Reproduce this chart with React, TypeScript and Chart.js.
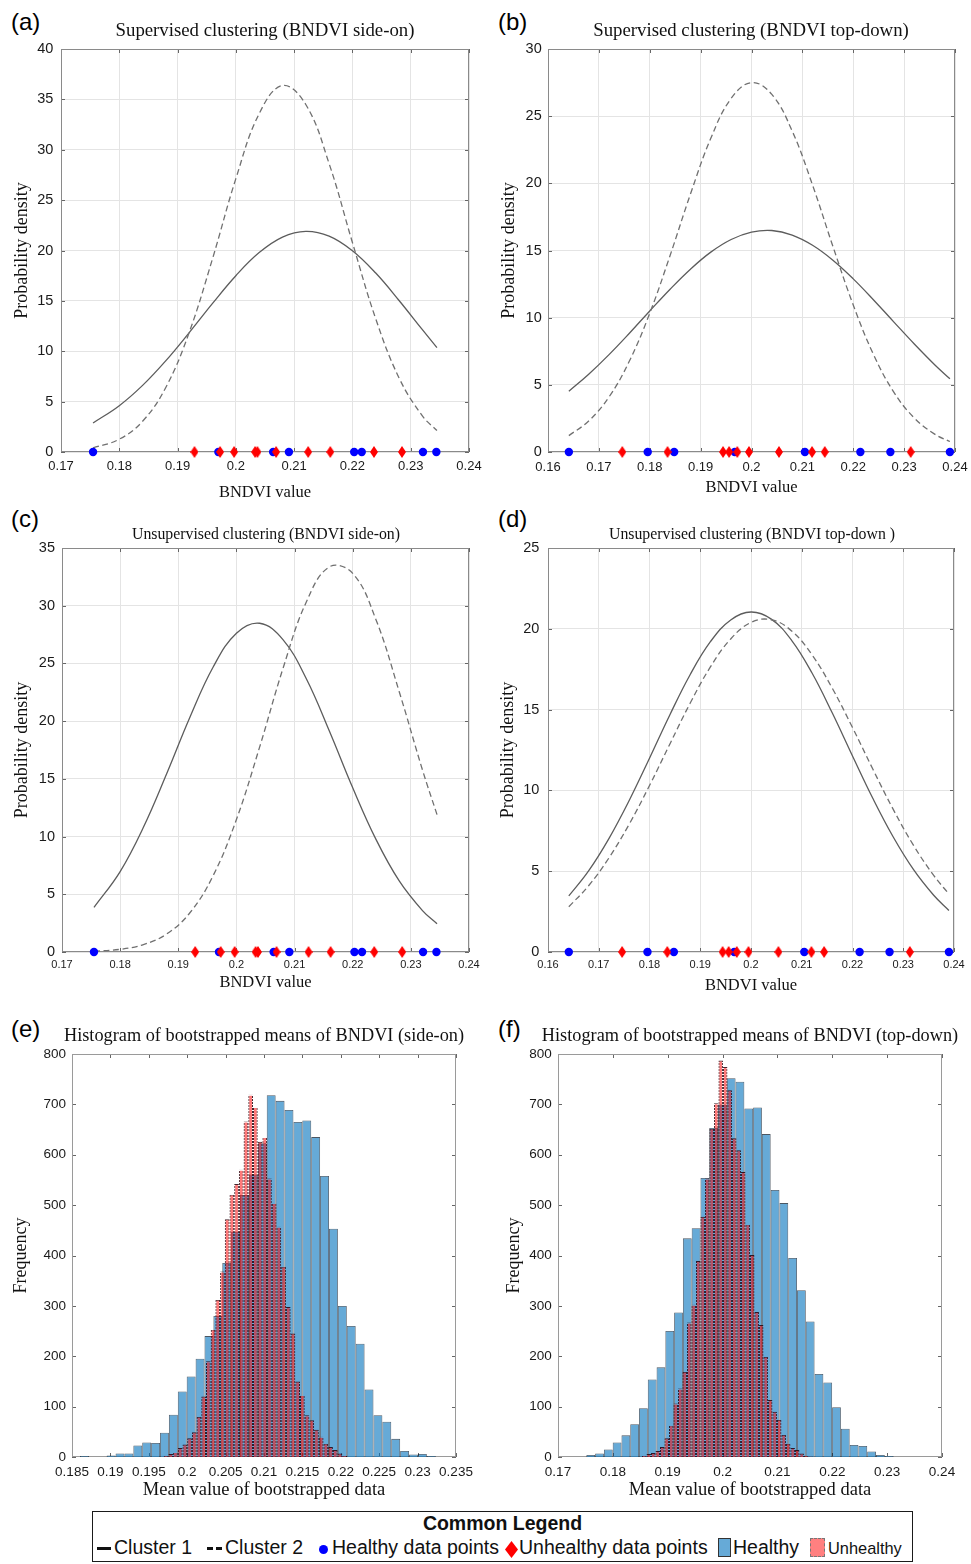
import React, { useEffect, useRef } from "react";
import { Chart, registerables } from "chart.js";

Chart.register(...registerables);

const SANS = "'Liberation Sans', Arial, sans-serif";
const SERIF = "'Liberation Serif', 'Times New Roman', serif";
const TICK_COLOR = "#1a1a1a";
const GRID_COLOR = "#e4e4e4";

// ---------------- data points (BNDVI values, plotted at density 0) ----------------
const sideOnHealthy = [0.1755, 0.197, 0.2064, 0.2091, 0.2203, 0.2216, 0.2321, 0.2344];
const sideOnUnhealthy = [0.1929, 0.1973, 0.1997, 0.2033, 0.2037, 0.2069, 0.2124, 0.2162, 0.2237, 0.2285];
const topDownHealthy = [0.1641, 0.1796, 0.1848, 0.1967, 0.2105, 0.2214, 0.2273, 0.239];
const topDownUnhealthy = [0.1746, 0.1835, 0.1944, 0.1956, 0.1972, 0.1995, 0.2054, 0.2119, 0.2144, 0.2313];

// ---------------- fitted density curves ----------------
const sideOnCurveX = [0.1755, 0.18, 0.184, 0.188, 0.192, 0.196, 0.2, 0.204, 0.208, 0.212, 0.216, 0.22, 0.224, 0.228, 0.232, 0.2345];
const supSideCluster1 = [2.88, 4.6, 6.61, 9.07, 11.85, 14.75, 17.5, 19.79, 21.33, 21.9, 21.43, 19.98, 17.76, 15.04, 12.14, 10.36];
const supSideCluster2 = [0.4, 1.27, 3.05, 6.43, 11.88, 19.19, 27.13, 33.58, 36.38, 34.49, 28.62, 20.79, 13.22, 7.35, 3.58, 2.14];
const unsupSideCluster1 = [3.86, 6.97, 10.8, 15.44, 20.34, 24.69, 27.62, 28.48, 27.06, 23.7, 19.13, 14.23, 9.76, 6.16, 3.59, 2.45];
const unsupSideCluster2 = [0.07, 0.23, 0.64, 1.56, 3.4, 6.62, 11.48, 17.77, 24.55, 30.3, 33.37, 32.8, 28.79, 22.55, 15.77, 11.9];

const topDownCurveX = [0.1641, 0.168, 0.172, 0.176, 0.18, 0.184, 0.188, 0.192, 0.196, 0.2, 0.204, 0.208, 0.212, 0.216, 0.22, 0.224, 0.228, 0.232, 0.236, 0.239];
const supTopCluster1 = [4.52, 5.79, 7.25, 8.84, 10.5, 12.12, 13.61, 14.88, 15.82, 16.37, 16.49, 16.15, 15.39, 14.28, 12.89, 11.32, 9.67, 8.04, 6.5, 5.45];
const supTopCluster2 = [1.22, 2.31, 4.1, 6.77, 10.33, 14.63, 19.2, 23.35, 26.32, 27.5, 26.62, 23.89, 19.87, 15.31, 10.94, 7.24, 4.44, 2.53, 1.33, 0.78];
const unsupTopCluster1 = [3.47, 5.02, 7.02, 9.38, 11.99, 14.67, 17.16, 19.2, 20.55, 21.04, 20.6, 19.29, 17.28, 14.8, 12.13, 9.51, 7.13, 5.11, 3.51, 2.57];
const unsupTopCluster2 = [2.8, 4.1, 5.82, 7.91, 10.3, 12.86, 15.39, 17.64, 19.37, 20.39, 20.56, 19.87, 18.4, 16.33, 13.89, 11.32, 8.84, 6.61, 4.74, 3.59];

// ---------------- bootstrapped-means histograms ----------------
const sideOnHealthyBinStart = 0.18604;
const sideOnHealthyBinWidth = 0.001158;
const sideOnHealthyCounts = [2, 0, 0, 3, 7, 7, 23, 29, 28, 48, 84, 130, 160, 195, 240, 280, 385, 447, 520, 561, 623, 718, 707, 689, 665, 668, 635, 558, 453, 300, 260, 225, 134, 83, 70, 36, 12, 5, 6, 2];
const sideOnUnhealthyBinStart = 0.19694;
const sideOnUnhealthyBinWidth = 0.000612;
const sideOnUnhealthyCounts = [3, 6, 10, 18, 25, 37, 49, 80, 120, 190, 253, 312, 368, 472, 521, 542, 570, 666, 719, 695, 626, 635, 553, 504, 457, 378, 298, 245, 150, 123, 83, 73, 54, 40, 27, 20, 14, 7, 3];

const topDownHealthyBinStart = 0.17517;
const topDownHealthyBinWidth = 0.0016;
const topDownHealthyCounts = [4, 7, 15, 29, 43, 65, 97, 154, 178, 250, 287, 434, 454, 554, 653, 700, 752, 745, 692, 694, 641, 530, 504, 395, 331, 269, 165, 148, 99, 56, 24, 22, 11, 4, 2];
const topDownUnhealthyBinStart = 0.18531;
const topDownUnhealthyBinWidth = 0.00082;
const topDownUnhealthyCounts = [3, 6, 8, 12, 20, 37, 63, 106, 136, 169, 267, 302, 389, 477, 553, 652, 702, 787, 774, 728, 633, 609, 566, 462, 401, 288, 262, 199, 113, 90, 74, 44, 27, 18, 14, 7, 3, 1];

// ---------------- helpers ----------------
type Rect = { x: number; y: number; w: number; h: number };
type Plot = { l: number; t: number; r: number; b: number };

const fmt = (v: any) => String(parseFloat(Number(v).toFixed(4)));

const matlabBox = {
  id: "matlabBox",
  beforeDatasetsDraw(chart: any, _args: any, opts: any) {
    const { ctx, chartArea: a } = chart;
    const xs = chart.scales.x;
    const ys = chart.scales.y;
    const L = 4;
    ctx.save();
    ctx.lineWidth = 1;
    ctx.strokeStyle = opts.tickColor || "#555";
    ctx.beginPath();
    for (const t of xs.ticks) {
      const px = Math.round(xs.getPixelForValue(t.value)) + 0.5;
      ctx.moveTo(px, a.bottom);
      ctx.lineTo(px, a.bottom - L);
      ctx.moveTo(px, a.top);
      ctx.lineTo(px, a.top + L);
    }
    for (const t of ys.ticks) {
      const py = Math.round(ys.getPixelForValue(t.value)) + 0.5;
      ctx.moveTo(a.left, py);
      ctx.lineTo(a.left + L, py);
      ctx.moveTo(a.right, py);
      ctx.lineTo(a.right - L, py);
    }
    ctx.stroke();
    ctx.strokeStyle = opts.boxColor || "#888";
    ctx.strokeRect(Math.round(a.left) + 0.5, Math.round(a.top) + 0.5, Math.round(a.right - a.left) - 1, Math.round(a.bottom - a.top) - 1);
    ctx.restore();
  },
};

function makeDiamond(w: number, h: number, color: string) {
  const c = document.createElement("canvas");
  c.width = w;
  c.height = h;
  const g = c.getContext("2d")!;
  g.fillStyle = color;
  g.beginPath();
  g.moveTo(w / 2, 0);
  g.lineTo(w, h / 2);
  g.lineTo(w / 2, h);
  g.lineTo(0, h / 2);
  g.closePath();
  g.fill();
  return c;
}

function makeDashPattern() {
  const c = document.createElement("canvas");
  c.width = 1;
  c.height = 3;
  const g = c.getContext("2d")!;
  g.fillStyle = "rgba(35,0,10,0.85)";
  g.fillRect(0, 0, 1, 2);
  return g.createPattern(c, "repeat");
}

type AxisSpec = {
  min: number;
  max: number;
  step: number;
  tickSize: number;
  tickPad: number;
  title: string;
  titleSize: number;
  titlePad: number;
  grid: boolean;
};

function xScaleOpts(a: AxisSpec, height: number) {
  return {
    type: "linear",
    min: a.min,
    max: a.max,
    offset: false,
    afterFit: (s: any) => {
      s.height = height;
      s.paddingLeft = 0;
      s.paddingRight = 0;
    },
    ticks: {
      stepSize: a.step,
      autoSkip: false,
      maxRotation: 0,
      minRotation: 0,
      padding: a.tickPad,
      color: TICK_COLOR,
      font: { family: SANS, size: a.tickSize },
      callback: (v: any) => fmt(v),
    },
    grid: { display: a.grid, color: GRID_COLOR, drawTicks: false, offset: false },
    border: { display: false },
    title: {
      display: true,
      text: a.title,
      color: "#111",
      font: { family: SERIF, size: a.titleSize },
      padding: { top: 0, bottom: a.titlePad },
    },
  };
}

function yScaleOpts(a: AxisSpec, width: number) {
  return {
    type: "linear",
    min: a.min,
    max: a.max,
    afterFit: (s: any) => {
      s.width = width;
      s.paddingTop = 0;
      s.paddingBottom = 0;
    },
    ticks: {
      stepSize: a.step,
      autoSkip: false,
      padding: a.tickPad,
      color: TICK_COLOR,
      font: { family: SANS, size: a.tickSize },
      callback: (v: any) => fmt(v),
    },
    grid: { display: a.grid, color: GRID_COLOR, drawTicks: false },
    border: { display: false },
    title: {
      display: true,
      text: a.title,
      color: "#111",
      font: { family: SERIF, size: a.titleSize },
      padding: { top: a.titlePad, bottom: 0 },
    },
  };
}

type DensitySpec = {
  canvas: Rect;
  plot: Plot;
  x: AxisSpec;
  y: AxisSpec;
  curveX: number[];
  cluster1: number[];
  cluster2: number[];
  healthy: number[];
  unhealthy: number[];
};

function densityConfig(s: DensitySpec): any {
  const { canvas: c, plot: p } = s;
  const diamond = makeDiamond(8, 12, "#ff0000");
  return {
    type: "line",
    data: {
      datasets: [
        {
          label: "Unhealthy data points",
          data: s.unhealthy.map((v) => ({ x: v, y: 0 })),
          showLine: false,
          pointStyle: diamond,
          pointRadius: 6,
          pointHoverRadius: 6,
          backgroundColor: "#ff0000",
          borderColor: "#ff0000",
          order: 0,
          clip: false,
        },
        {
          label: "Healthy data points",
          data: s.healthy.map((v) => ({ x: v, y: 0 })),
          showLine: false,
          pointStyle: "circle",
          pointRadius: 4.2,
          pointHoverRadius: 4.2,
          pointBorderWidth: 0,
          backgroundColor: "#0000ff",
          borderColor: "#0000ff",
          order: 1,
          clip: false,
        },
        {
          label: "Cluster 2",
          data: s.curveX.map((x, i) => ({ x, y: s.cluster2[i] })),
          borderColor: "#707070",
          borderWidth: 1.3,
          borderDash: [6, 3.5],
          pointRadius: 0,
          tension: 0.4,
          fill: false,
          order: 2,
        },
        {
          label: "Cluster 1",
          data: s.curveX.map((x, i) => ({ x, y: s.cluster1[i] })),
          borderColor: "#5c5c5c",
          borderWidth: 1.3,
          pointRadius: 0,
          tension: 0.4,
          fill: false,
          order: 3,
        },
      ],
    },
    options: {
      responsive: false,
      animation: false,
      events: [],
      layout: { padding: { left: 0, top: p.t - c.y, right: c.x + c.w - p.r, bottom: 0 } },
      scales: {
        x: xScaleOpts(s.x, c.y + c.h - p.b),
        y: yScaleOpts(s.y, p.l - c.x),
      },
      plugins: {
        legend: { display: false },
        tooltip: { enabled: false },
        title: { display: false },
        matlabBox: { boxColor: "#8a8a8a", tickColor: "#666" },
      },
    },
    plugins: [matlabBox],
  };
}

type HistSpec = {
  canvas: Rect;
  plot: Plot;
  x: AxisSpec;
  y: AxisSpec;
  healthyStart: number;
  healthyWidth: number;
  healthyCounts: number[];
  unhealthyStart: number;
  unhealthyWidth: number;
  unhealthyCounts: number[];
};

function histConfig(s: HistSpec): any {
  const { canvas: c, plot: p } = s;
  const dash = makeDashPattern();
  const red = s.unhealthyCounts.map((y, i) => ({ x: s.unhealthyStart + (i + 0.5) * s.unhealthyWidth, y }));
  const blue = s.healthyCounts.map((y, i) => ({ x: s.healthyStart + (i + 0.5) * s.healthyWidth, y }));
  return {
    type: "bar",
    data: {
      datasets: [
        {
          label: "Unhealthy",
          data: red,
          xAxisID: "x2",
          yAxisID: "y",
          backgroundColor: "rgba(255,0,0,0.52)",
          borderColor: dash,
          borderWidth: 1,
          borderSkipped: "start",
          barPercentage: 1,
          categoryPercentage: 1,
          grouped: false,
          inflateAmount: 0,
          order: 0,
        },
        {
          label: "Healthy",
          data: blue,
          xAxisID: "x",
          yAxisID: "y",
          backgroundColor: "rgba(0,114,189,0.6)",
          borderColor: "rgba(15,30,45,0.75)",
          borderWidth: 0.8,
          borderSkipped: "start",
          barPercentage: 1,
          categoryPercentage: 1,
          grouped: false,
          inflateAmount: 0,
          order: 1,
        },
      ],
    },
    options: {
      responsive: false,
      animation: false,
      events: [],
      layout: { padding: { left: 0, top: p.t - c.y, right: c.x + c.w - p.r, bottom: 0 } },
      scales: {
        x: xScaleOpts(s.x, c.y + c.h - p.b),
        x2: {
          type: "linear",
          display: false,
          min: s.x.min,
          max: s.x.max,
          offset: false,
          ticks: { stepSize: s.x.step },
          grid: { display: false, offset: false },
        },
        y: yScaleOpts(s.y, p.l - c.x),
      },
      plugins: {
        legend: { display: false },
        tooltip: { enabled: false },
        title: { display: false },
        matlabBox: { boxColor: "#9a9a9a", tickColor: "#666" },
      },
    },
    plugins: [matlabBox],
  };
}

function ChartCanvas({ rect, build }: { rect: Rect; build: () => any }) {
  const ref = useRef<HTMLCanvasElement>(null);
  useEffect(() => {
    if (!ref.current) return;
    const chart = new Chart(ref.current, build());
    return () => chart.destroy();
  }, []);
  return (
    <canvas
      ref={ref}
      width={rect.w}
      height={rect.h}
      style={{ position: "absolute", left: rect.x, top: rect.y, width: rect.w, height: rect.h }}
    />
  );
}

// ---------------- panel specs ----------------
const densityAxisX = (min: number, max: number, tickSize: number, tickPad: number, titlePad: number): AxisSpec => ({
  min, max, step: 0.01, tickSize, tickPad, title: "BNDVI value", titleSize: 16.5, titlePad, grid: true,
});
const densityAxisY = (max: number, tickPad: number, titlePad: number): AxisSpec => ({
  min: 0, max, step: 5, tickSize: 14.5, tickPad, title: "Probability density", titleSize: 18, titlePad, grid: true,
});

const panelA: DensitySpec = {
  canvas: { x: 0, y: 36, w: 485, h: 468 },
  plot: { l: 61, t: 49, r: 469, b: 452 },
  x: densityAxisX(0.17, 0.24, 13, 6.2, 1.1),
  y: densityAxisY(40, 7.7, 11.2),
  curveX: sideOnCurveX,
  cluster1: supSideCluster1,
  cluster2: supSideCluster2,
  healthy: sideOnHealthy,
  unhealthy: sideOnUnhealthy,
};
const panelB: DensitySpec = {
  canvas: { x: 490, y: 36, w: 481, h: 464 },
  plot: { l: 548, t: 49, r: 955, b: 452 },
  x: densityAxisX(0.16, 0.24, 13, 7.2, 2.1),
  y: densityAxisY(30, 6.3, 8.7),
  curveX: topDownCurveX,
  cluster1: supTopCluster1,
  cluster2: supTopCluster2,
  healthy: topDownHealthy,
  unhealthy: topDownUnhealthy,
};
const panelC: DensitySpec = {
  canvas: { x: 0, y: 535, w: 485, h: 465 },
  plot: { l: 62, t: 548, r: 469, b: 952 },
  x: densityAxisX(0.17, 0.24, 11, 6.4, 7.1),
  y: densityAxisY(35, 7, 11.7),
  curveX: sideOnCurveX,
  cluster1: unsupSideCluster1,
  cluster2: unsupSideCluster2,
  healthy: sideOnHealthy,
  unhealthy: sideOnUnhealthy,
};
const panelD: DensitySpec = {
  canvas: { x: 490, y: 535, w: 481, h: 465 },
  plot: { l: 548, t: 548, r: 954, b: 952 },
  x: densityAxisX(0.16, 0.24, 11, 6.4, 4.1),
  y: densityAxisY(25, 8.7, 7.7),
  curveX: topDownCurveX,
  cluster1: unsupTopCluster1,
  cluster2: unsupTopCluster2,
  healthy: topDownHealthy,
  unhealthy: topDownUnhealthy,
};

const histAxisY = (titlePad: number, tickPad: number): AxisSpec => ({
  min: 0, max: 800, step: 100, tickSize: 13.5, tickPad, title: "Frequency", titleSize: 18, titlePad, grid: false,
});
const histAxisX = (min: number, max: number, step: number): AxisSpec => ({
  min, max, step, tickSize: 13.5, tickPad: 6.9, title: "Mean value of bootstrapped data", titleSize: 18.5, titlePad: 3.9, grid: false,
});

const panelE: HistSpec = {
  canvas: { x: 0, y: 1042, w: 485, h: 463 },
  plot: { l: 72, t: 1054, r: 456, b: 1457 },
  x: histAxisX(0.185, 0.235, 0.005),
  y: histAxisY(10.2, 6),
  healthyStart: sideOnHealthyBinStart,
  healthyWidth: sideOnHealthyBinWidth,
  healthyCounts: sideOnHealthyCounts,
  unhealthyStart: sideOnUnhealthyBinStart,
  unhealthyWidth: sideOnUnhealthyBinWidth,
  unhealthyCounts: sideOnUnhealthyCounts,
};
const panelF: HistSpec = {
  canvas: { x: 490, y: 1042, w: 481, h: 463 },
  plot: { l: 558, t: 1054, r: 942, b: 1457 },
  x: histAxisX(0.17, 0.24, 0.01),
  y: histAxisY(13.7, 6.3),
  healthyStart: topDownHealthyBinStart,
  healthyWidth: topDownHealthyBinWidth,
  healthyCounts: topDownHealthyCounts,
  unhealthyStart: topDownUnhealthyBinStart,
  unhealthyWidth: topDownUnhealthyBinWidth,
  unhealthyCounts: topDownUnhealthyCounts,
};

const panelLetters = [
  { t: "(a)", x: 11, y: 10 },
  { t: "(b)", x: 498, y: 10 },
  { t: "(c)", x: 11, y: 507 },
  { t: "(d)", x: 498, y: 507 },
  { t: "(e)", x: 11, y: 1017 },
  { t: "(f)", x: 498, y: 1017 },
];

const panelTitles = [
  { t: "Supervised clustering (BNDVI side-on)", cx: 265, y: 21, s: 18.8 },
  { t: "Supervised clustering (BNDVI top-down)", cx: 751, y: 20.5, s: 18.8 },
  { t: "Unsupervised clustering (BNDVI side-on)", cx: 266, y: 526.3, s: 15.8 },
  { t: "Unsupervised clustering (BNDVI top-down )", cx: 752, y: 526.3, s: 15.8 },
  { t: "Histogram of bootstrapped means of BNDVI (side-on)", cx: 264, y: 1026.2, s: 18.3 },
  { t: "Histogram of bootstrapped means of BNDVI (top-down)", cx: 750, y: 1026.2, s: 18.3 },
];

const abs = (o: any): React.CSSProperties => ({ position: "absolute", ...o });

function Legend() {
  const txt = (t: string, x: number, y: number, s: number) => (
    <div style={abs({ left: x, top: y, fontFamily: SANS, fontSize: s, lineHeight: `${s}px`, whiteSpace: "nowrap", color: "#111" })}>{t}</div>
  );
  return (
    <>
      <div style={abs({ left: 92, top: 1511, width: 821, height: 51, border: "1.5px solid #1a1a1a", boxSizing: "border-box" })} />
      <div style={abs({ left: 92, width: 821, top: 1513.5, textAlign: "center", fontFamily: SANS, fontWeight: "bold", fontSize: 19.5, lineHeight: "19.5px", color: "#111" })}>
        Common Legend
      </div>
      <div style={abs({ left: 97, top: 1546.5, width: 14, height: 3, background: "#111" })} />
      {txt("Cluster 1", 114, 1538, 19.5)}
      <div style={abs({ left: 207, top: 1546.5, width: 6, height: 3, background: "#111" })} />
      <div style={abs({ left: 216, top: 1546.5, width: 6, height: 3, background: "#111" })} />
      {txt("Cluster 2", 225, 1538, 19.5)}
      <div style={abs({ left: 318.5, top: 1544.5, width: 9, height: 9, borderRadius: "50%", background: "#0000ff" })} />
      {txt("Healthy data points", 332, 1538, 19.5)}
      <svg style={abs({ left: 505, top: 1541 })} width={13} height={17}>
        <polygon points="6.5,0 13,8.5 6.5,17 0,8.5" fill="#ff0000" />
      </svg>
      {txt("Unhealthy data points", 519, 1538, 19.5)}
      <div style={abs({ left: 718, top: 1538, width: 13, height: 19, background: "rgb(102,170,215)", border: "1px solid #333", boxSizing: "border-box" })} />
      {txt("Healthy", 733, 1538, 19.5)}
      <div style={abs({ left: 810, top: 1538, width: 15, height: 19, background: "rgb(255,128,128)", border: "1px dashed #777", boxSizing: "border-box" })} />
      {txt("Unhealthy", 828, 1540.3, 16.4)}
    </>
  );
}

export default function App() {
  return (
    <div style={{ position: "absolute", left: 0, top: 0, width: 971, height: 1564, background: "#ffffff", overflow: "hidden" }}>
      <ChartCanvas rect={panelA.canvas} build={() => densityConfig(panelA)} />
      <ChartCanvas rect={panelB.canvas} build={() => densityConfig(panelB)} />
      <ChartCanvas rect={panelC.canvas} build={() => densityConfig(panelC)} />
      <ChartCanvas rect={panelD.canvas} build={() => densityConfig(panelD)} />
      <ChartCanvas rect={panelE.canvas} build={() => histConfig(panelE)} />
      <ChartCanvas rect={panelF.canvas} build={() => histConfig(panelF)} />
      {panelLetters.map((l) => (
        <div key={l.t} style={abs({ left: l.x, top: l.y, fontFamily: SANS, fontSize: 24, lineHeight: "24px", color: "#000" })}>
          {l.t}
        </div>
      ))}
      {panelTitles.map((t) => (
        <div
          key={t.t}
          style={abs({ left: t.cx - 300, width: 600, top: t.y, textAlign: "center", fontFamily: SERIF, fontSize: t.s, lineHeight: `${t.s}px`, whiteSpace: "nowrap", color: "#111" })}
        >
          {t.t}
        </div>
      ))}
      <Legend />
    </div>
  );
}
